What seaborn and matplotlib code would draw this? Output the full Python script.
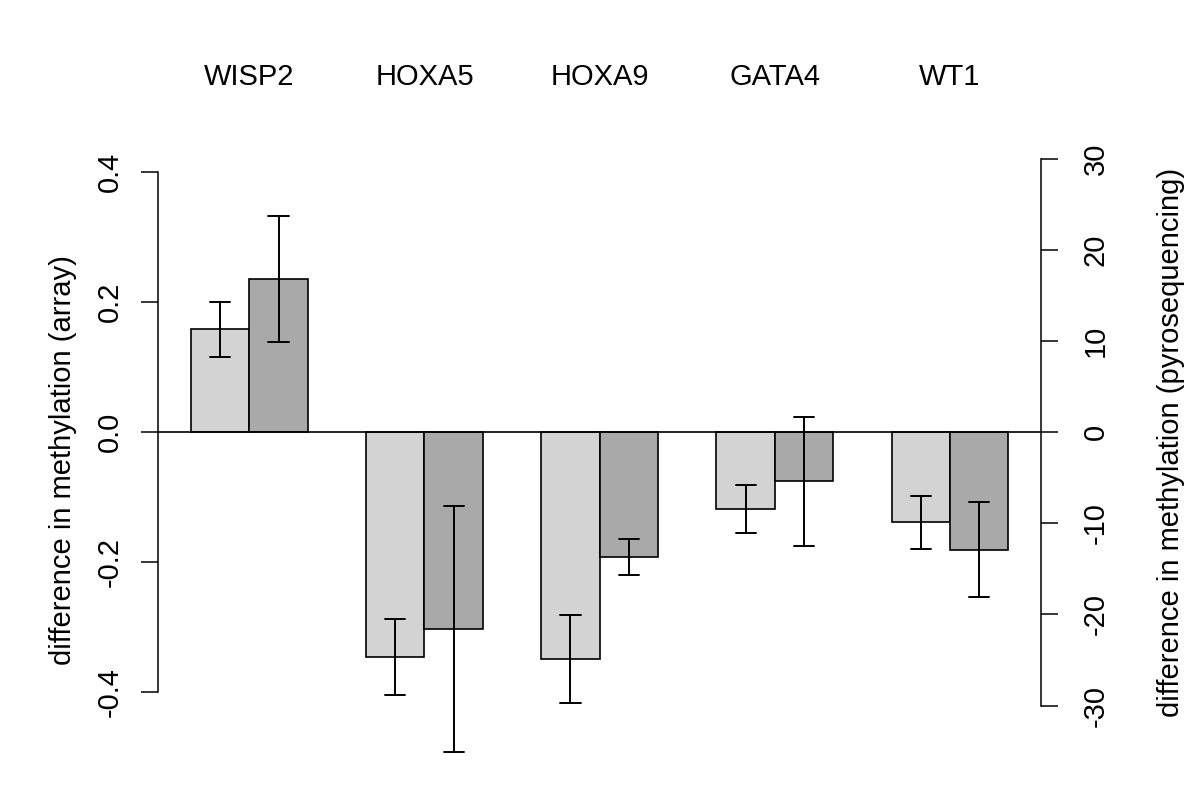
import numpy as np
import pandas as pd
import matplotlib
matplotlib.use("Agg")
import matplotlib.pyplot as plt
import seaborn as sns

# ---- data ----
genes = ["WISP2", "HOXA5", "HOXA9", "GATA4", "WT1"]
series = ["array", "pyrosequencing"]
colors = ["#D3D3D3", "#A9A9A9"]

array_mean = [0.158, -0.346, -0.349, -0.118, -0.139]
array_err = [0.042, 0.058, 0.068, 0.037, 0.040]
pyro_mean = [16.8, -21.6, -13.7, -5.4, -12.9]
pyro_err = [6.9, 13.5, 2.0, 7.1, 5.2]

left_ticks = [-0.4, -0.2, 0.0, 0.2, 0.4]
left_labels = ["-0.4", "-0.2", "0.0", "0.2", "0.4"]
right_ticks = [-30, -20, -10, 0, 10, 20, 30]
right_labels = ["-30", "-20", "-10", "0", "10", "20", "30"]


def long_frame(means, errs, name):
    vals, gs = [], []
    for g, m, e in zip(genes, means, errs):
        vals += [m - e, m + e]
        gs += [g, g]
    return pd.DataFrame({"gene": gs, "series": name, "value": vals})


df_array = long_frame(array_mean, array_err, series[0])
df_pyro = long_frame(pyro_mean, pyro_err, series[1])

sns.set_style("white")
plt.rcParams["font.family"] = ["Liberation Sans", "DejaVu Sans"]
plt.rcParams["text.color"] = "black"
plt.rcParams["axes.labelcolor"] = "black"
plt.rcParams["xtick.color"] = "black"
plt.rcParams["ytick.color"] = "black"
plt.rcParams["axes.edgecolor"] = "black"

FS = 21
fig = plt.figure(figsize=(12, 7.94), dpi=100)
ax = fig.add_axes([0.1319, 0.01335, 0.7356, 0.8031])
ax2 = ax.twinx()

common = dict(
    x="gene", y="value", hue="series", hue_order=series, order=genes,
    palette=dict(zip(series, colors)), width=2 / 3, dodge=True, saturation=1,
    estimator="mean", errorbar=lambda v: (v.min(), v.max()), capsize=0.23,
    err_kws={"color": "black", "linewidth": 1.4},
    edgecolor="black", linewidth=1.2, legend=False,
)
sns.barplot(data=df_array, ax=ax, **common)
sns.barplot(data=df_pyro, ax=ax2, **common)

ax.set_xlim(-0.52, 4.52)
ylo, yhi = -0.54, 0.44
ratio = 71.38
ax.set_ylim(ylo, yhi)
ax2.set_ylim(ylo * ratio, yhi * ratio)

# zero line
ax2.axhline(0, color="black", linewidth=1.2, zorder=5)

# spines
for s in ["top", "bottom", "right"]:
    ax.spines[s].set_visible(False)
for s in ["top", "bottom", "left"]:
    ax2.spines[s].set_visible(False)
ax.spines["left"].set_bounds(-0.4, 0.4)
ax2.spines["right"].set_bounds(-30, 30)
ax.spines["left"].set_linewidth(1.1)
ax2.spines["right"].set_linewidth(1.1)
ax.spines["left"].set_color("black")
ax2.spines["right"].set_color("black")

# y ticks
ax.set_yticks(left_ticks, left_labels)
ax.tick_params(axis="y", left=True, direction="out", length=12.2, width=1.1,
               pad=12.5, labelsize=FS, colors="black")
for t in ax.get_yticklabels():
    t.set_rotation(90)
    t.set_va("center")
ax2.set_yticks(right_ticks, right_labels)
ax2.tick_params(axis="y", right=True, direction="out", length=12.2, width=1.1,
                pad=17, labelsize=FS, colors="black")
for t in ax2.get_yticklabels():
    t.set_rotation(90)
    t.set_va("center")

# gene labels on top
ax.set_xticks(range(len(genes)), genes)
ax.tick_params(axis="x", bottom=False, top=False, labelbottom=False,
               labeltop=True, length=0, pad=39.4, labelsize=FS,
               labelcolor="black")
ax2.tick_params(axis="x", bottom=False, top=False, labelbottom=False,
                labeltop=False)
ax.set_xlabel("")
ax2.set_xlabel("")

ax.set_ylabel("difference in methylation (array)", fontsize=FS, color="black")
ax.yaxis.set_label_coords(-0.0921, 0.507)
ax2.set_ylabel("difference in methylation (pyrosequencing)", fontsize=FS,
               color="black")
ax2.yaxis.set_label_coords(1.1314, 0.534)

fig.savefig("out.png", dpi=100)
